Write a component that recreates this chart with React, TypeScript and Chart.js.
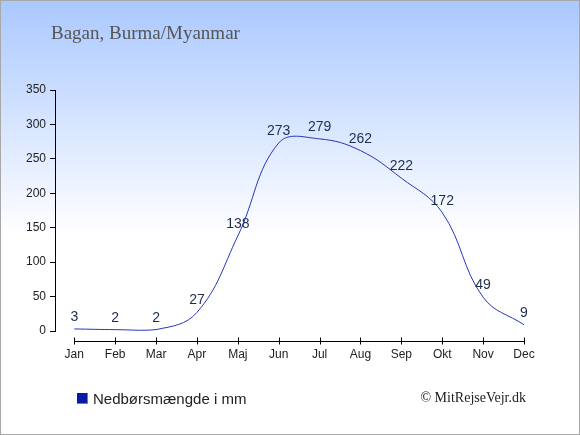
import React, { useEffect, useRef } from "react";
import { Chart, registerables } from "chart.js";

Chart.register(...registerables);

const months = ["Jan", "Feb", "Mar", "Apr", "Maj", "Jun", "Jul", "Aug", "Sep", "Okt", "Nov", "Dec"];
const rainfall = [3, 2, 2, 27, 138, 273, 279, 262, 222, 172, 49, 9];
const yTicks = [0, 50, 100, 150, 200, 250, 300, 350];
const titleText = "Bagan, Burma/Myanmar";
const legendText = "Nedbørsmængde i mm";
const copyrightText = "© MitRejseVejr.dk";

const W = 580;
const H = 435;

export default function App() {
  const ref = useRef<HTMLCanvasElement | null>(null);

  useEffect(() => {
    const canvas = ref.current;
    if (!canvas) return;

    const bgPlugin = {
      id: "bg",
      beforeDraw(chart: any) {
        const ctx = chart.ctx;
        ctx.save();
        const g = ctx.createLinearGradient(0, 0, 0, 235);
        g.addColorStop(0, "#aac8ff");
        g.addColorStop(1, "#ffffff");
        ctx.fillStyle = "#ffffff";
        ctx.fillRect(0, 0, W, H);
        ctx.fillStyle = g;
        ctx.fillRect(0, 0, W, 235);
        ctx.strokeStyle = "#a8a8a8";
        ctx.lineWidth = 1;
        ctx.strokeRect(0.5, 0.5, W - 1, H - 1);
        ctx.restore();
      },
    };

    const decoPlugin = {
      id: "deco",
      afterDraw(chart: any) {
        const ctx = chart.ctx;
        const xs = chart.scales.x;
        const ys = chart.scales.y;
        ctx.save();
        // title
        ctx.font = "19px 'Liberation Serif', serif";
        ctx.fillStyle = "#555555";
        ctx.textAlign = "left";
        ctx.textBaseline = "alphabetic";
        ctx.fillText(titleText, 51, 39);

        // x axis line with ticks
        const x0 = xs.getPixelForValue(0);
        const x1 = xs.getPixelForValue(months.length - 1);
        const ay = 341.5;
        ctx.strokeStyle = "#000000";
        ctx.lineWidth = 1;
        ctx.beginPath();
        ctx.moveTo(x0, ay);
        ctx.lineTo(x1, ay);
        for (let i = 0; i < months.length; i++) {
          const px = Math.round(xs.getPixelForValue(i)) + 0.5;
          ctx.moveTo(px, ay - 4);
          ctx.lineTo(px, ay + 3);
        }
        ctx.stroke();

        // data labels
        ctx.font = "14px 'Liberation Sans', Arial, sans-serif";
        ctx.fillStyle = "#1f2d4d";
        ctx.textAlign = "center";
        ctx.textBaseline = "alphabetic";
        rainfall.forEach((v, i) => {
          const px = xs.getPixelForValue(i);
          const py = ys.getPixelForValue(v);
          ctx.fillText(String(v), px, py - 8);
        });

        // legend
        ctx.fillStyle = "#6a78c8";
        ctx.fillRect(77, 393, 11, 11);
        ctx.fillStyle = "#0a1aa8";
        ctx.fillRect(77, 393, 10, 10);
        ctx.font = "15px 'Liberation Sans', Arial, sans-serif";
        ctx.fillStyle = "#222222";
        ctx.textAlign = "left";
        ctx.fillText(legendText, 93, 404);

        // copyright
        ctx.font = "14px 'Liberation Serif', serif";
        ctx.fillStyle = "#222222";
        ctx.textAlign = "right";
        ctx.fillText(copyrightText, 526, 402);
        ctx.restore();
      },
    };

    const chart = new Chart(canvas, {
      type: "line",
      data: {
        datasets: [
          {
            label: legendText,
            data: rainfall.map((v, i) => ({ x: i, y: v })),
            borderColor: "#2436c0",
            borderWidth: 1,
            pointRadius: 0,
            tension: 0.4,
            fill: false,
            clip: false as any,
          },
        ],
      },
      options: {
        animation: false,
        responsive: false,
        devicePixelRatio: 1,
        layout: { padding: { top: 90, left: 0, right: W - 524, bottom: 0 } },
        plugins: {
          legend: { display: false },
          tooltip: { enabled: false },
          title: { display: false },
        },
        scales: {
          x: {
            type: "linear",
            min: -0.472,
            max: 11,
            grid: { display: false, drawTicks: false },
            border: { display: false },
            afterBuildTicks: (scale: any) => {
              scale.ticks = months.map((_, i) => ({ value: i }));
            },
            afterFit: (scale: any) => {
              scale.height = H - 331;
            },
            ticks: {
              autoSkip: false,
              maxRotation: 0,
              padding: 16,
              color: "#222222",
              font: { family: "'Liberation Sans', Arial, sans-serif", size: 12 },
              callback: (v: any) => months[Number(v)] ?? "",
            },
          },
          y: {
            min: 0,
            max: 350,
            afterBuildTicks: (scale: any) => {
              scale.ticks = yTicks.map((v) => ({ value: v }));
            },
            afterFit: (scale: any) => {
              scale.width = 55;
            },
            grid: {
              drawOnChartArea: false,
              drawTicks: true,
              tickLength: 5,
              color: "#000000",
            },
            border: { display: true, color: "#000000", width: 1 },
            ticks: {
              padding: 4,
              color: "#222222",
              font: { family: "'Liberation Sans', Arial, sans-serif", size: 12 },
            },
          },
        },
      },
      plugins: [bgPlugin, decoPlugin],
    });

    return () => chart.destroy();
  }, []);

  return (
    <div style={{ position: "fixed", left: 0, top: 0, width: W, height: H }}>
      <canvas ref={ref} width={W} height={H} style={{ display: "block", width: W, height: H }} />
    </div>
  );
}
